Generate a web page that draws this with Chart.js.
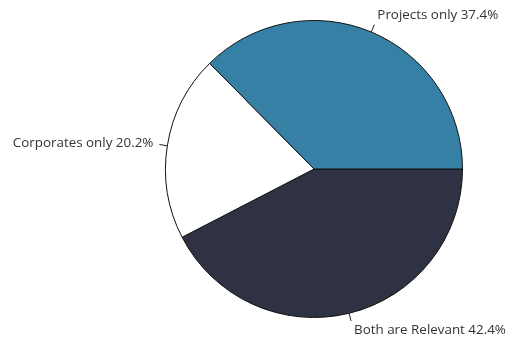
<!DOCTYPE html>
<html>
<head>
<meta charset="utf-8">
<script src="https://cdn.jsdelivr.net/npm/chart.js@4.4.1/dist/chart.umd.min.js"></script>
<style>
  html, body { margin: 0; padding: 0; background: #fff; }
  #wrap { width: 508px; height: 343px; }
</style>
</head>
<body>
<div id="wrap"><canvas id="grafico" width="508" height="343"></canvas></div>
<script>
// drawn clockwise from 3 o'clock
const categorias = ['Both are Relevant', 'Corporates only', 'Projects only'];
const valores = [42.4, 20.2, 37.4];
const cores = ['#2e3242', '#ffffff', '#3680a6'];

// short leader ticks plus text next to each slice
const rotulosPlugin = {
    id: 'rotulos',
    afterDatasetsDraw(chart) {
        const ctx = chart.ctx;
        const meta = chart.getDatasetMeta(0);
        ctx.save();
        ctx.font = '13.4px "Open Sans"';
        ctx.fillStyle = '#333';
        ctx.strokeStyle = '#222';
        ctx.lineWidth = 1;
        meta.data.forEach((arc, i) => {
            const p = arc.getProps(['x', 'y', 'startAngle', 'endAngle', 'outerRadius'], true);
            const meio = (p.startAngle + p.endAngle) / 2;
            const dx = Math.cos(meio), dy = Math.sin(meio);
            const x1 = p.x + dx * p.outerRadius, y1 = p.y + dy * p.outerRadius;
            const x2 = p.x + dx * (p.outerRadius + 8), y2 = p.y + dy * (p.outerRadius + 8);
            ctx.beginPath();
            ctx.moveTo(x1, y1);
            ctx.lineTo(x2, y2);
            ctx.stroke();
            const texto = categorias[i] + ' ' + valores[i].toFixed(1) + '%';
            ctx.textAlign = dx >= 0 ? 'left' : 'right';
            if (Math.abs(dy) > 0.7) {
                ctx.textBaseline = dy < 0 ? 'bottom' : 'top';
                ctx.fillText(texto, x2 + (dx >= 0 ? 3 : -3), y2 + (dy < 0 ? -3 : 2));
            } else {
                ctx.textBaseline = 'middle';
                ctx.fillText(texto, x2 + (dx >= 0 ? 5 : -6), y2 - 1);
            }
        });
        ctx.restore();
    }
};

new Chart(document.getElementById('grafico').getContext('2d'), {
    type: 'pie',
    data: {
        labels: categorias,
        datasets: [{
            data: valores,
            backgroundColor: cores,
            borderColor: '#111',
            borderWidth: 1
        }]
    },
    options: {
        responsive: false,
        animation: false,
        rotation: 90,
        layout: { padding: { left: 165, right: 45, top: 20, bottom: 25 } },
        plugins: {
            legend: { display: false },
            tooltip: { enabled: false }
        }
    },
    plugins: [rotulosPlugin]
});
</script>
</body>
</html>
